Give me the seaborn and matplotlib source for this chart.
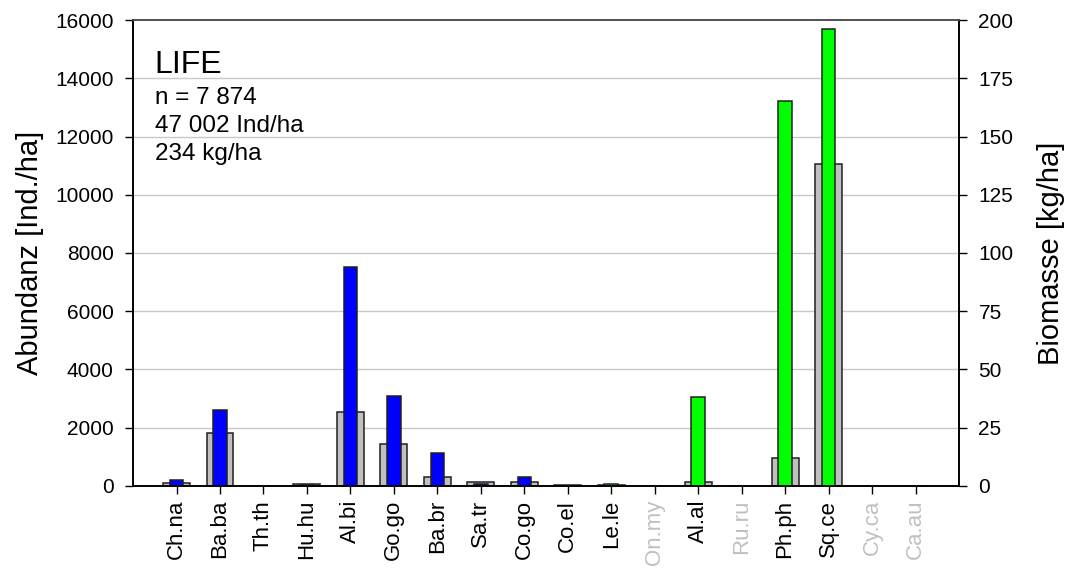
import matplotlib
matplotlib.use("Agg")
import matplotlib.pyplot as plt
import seaborn as sns
import pandas as pd

# Species codes (x axis)
species = ["Ch.na", "Ba.ba", "Th.th", "Hu.hu", "Al.bi", "Go.go", "Ba.br", "Sa.tr",
           "Co.go", "Co.el", "Le.le", "On.my", "Al.al", "Ru.ru", "Ph.ph", "Sq.ce",
           "Cy.ca", "Ca.au"]
# Abundance [Ind./ha] (left axis, grey bars)
abundance = [110, 1830, 0, 80, 2550, 1440, 300, 140,
             150, 30, 50, 0, 140, 0, 970, 11070,
             0, 0]
# Biomass [kg/ha] (right axis, coloured bars)
biomass = [2.6, 32.5, 0, 0.6, 94, 38.6, 14.3, 0.8,
           3.7, 0, 0.8, 0, 38.2, 0, 165.4, 196.1,
           0, 0]
# Group of each species, decides the biomass bar colour
group = ["blue", "blue", "blue", "blue", "blue", "blue", "blue", "blue",
         "blue", "blue", "green", "green", "green", "green", "green", "green",
         "green", "green"]
# Species not caught: label drawn in grey
absent = ["On.my", "Ru.ru", "Cy.ca", "Ca.au"]

colour_of = {"blue": "#0000ff", "green": "#00ff00"}
df = pd.DataFrame({"species": species, "abundance": abundance,
                   "biomass": biomass, "group": group})

sns.set_style("white")
plt.rcParams["font.family"] = ["Liberation Sans", "DejaVu Sans"]
plt.rcParams["text.color"] = "black"
plt.rcParams["axes.labelcolor"] = "black"
plt.rcParams["xtick.color"] = "black"
plt.rcParams["ytick.color"] = "black"

fig = plt.figure(figsize=(10.66, 5.7), dpi=100)
ax = fig.add_axes([0.1248, 0.1474, 0.7748, 0.8175])
ax2 = ax.twinx()

ax.set_zorder(1)
ax2.set_zorder(2)
ax.patch.set_visible(True)
ax2.patch.set_visible(False)

sns.barplot(data=df, x="species", y="abundance", ax=ax, color="#c0c0c0",
            width=0.62, edgecolor="#202020", linewidth=1.1, saturation=1)
sns.barplot(data=df, x="species", y="biomass", hue="group", ax=ax2,
            palette=colour_of, width=0.31, dodge=False, legend=False,
            edgecolor="#202020", linewidth=1.1, saturation=1)

ax.set_xlim(-1, len(species))
ax2.set_xlim(-1, len(species))
ax.set_ylim(0, 16000)
ax2.set_ylim(0, 200)
ax.set_yticks(range(0, 16001, 2000))
ax2.set_yticks(range(0, 201, 25))

# horizontal grid lines on the biomass scale
ax.grid(False)
ax2.grid(False)
for v in range(25, 200, 25):
    ax.axhline(v * 80, color="#c8c8c8", lw=1.0, zorder=0)

ax.set_xlabel("")
ax2.set_xlabel("")
ax.set_ylabel("Abundanz [Ind./ha]", fontsize=21, labelpad=8)
ax2.set_ylabel("Biomasse [kg/ha]", fontsize=21, labelpad=17)

ax.set_xticks(range(len(species)))
ax.set_xticklabels(species, rotation=90, fontsize=16)
for lbl in ax.get_xticklabels():
    if lbl.get_text() in absent:
        lbl.set_color("#c0c0c0")
ax.tick_params(axis="y", direction="out", length=6, width=1, labelsize=15,
               left=True, pad=8)
ax.tick_params(axis="x", direction="out", length=6, width=1, labelsize=16,
               bottom=True, pad=4)
ax2.tick_params(axis="y", direction="out", length=6, width=1, labelsize=15,
                right=True, pad=8)

for a in (ax, ax2):
    for side in ("left", "right", "bottom"):
        a.spines[side].set_color("black")
        a.spines[side].set_linewidth(1.2)
    a.spines["top"].set_color("#505050")
    a.spines["top"].set_linewidth(1.2)

ax.text(0.026, 0.886, "LIFE", transform=ax.transAxes, fontsize=23, va="baseline")
ax.text(0.026, 0.820, "n = 7 874", transform=ax.transAxes, fontsize=17.5, va="baseline")
ax.text(0.026, 0.760, "47 002 Ind/ha", transform=ax.transAxes, fontsize=17.5, va="baseline")
ax.text(0.026, 0.700, "234 kg/ha", transform=ax.transAxes, fontsize=17.5, va="baseline")

fig.savefig("out.png", dpi=100)
